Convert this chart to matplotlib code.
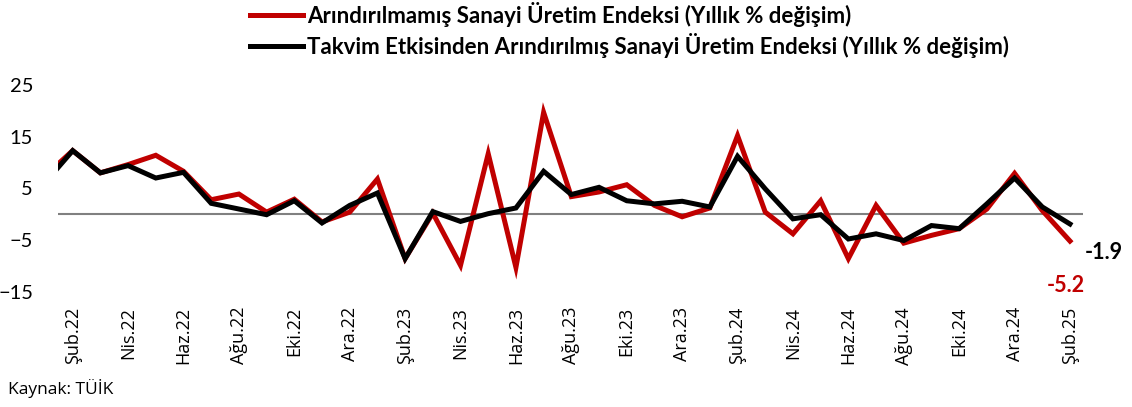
# -*- coding: UTF-8 -*-
import matplotlib
matplotlib.use("Agg")
import matplotlib.pyplot as plt

# aylar: Oca.22 .. Şub.25 (Oca.22 grafiğin solunda kırpılıyor)
months = ['Oca.22', 'Şub.22', 'Mar.22', 'Nis.22', 'May.22', 'Haz.22', 'Tem.22', 'Ağu.22',
          'Eyl.22', 'Eki.22', 'Kas.22', 'Ara.22', 'Oca.23', 'Şub.23', 'Mar.23', 'Nis.23',
          'May.23', 'Haz.23', 'Tem.23', 'Ağu.23', 'Eyl.23', 'Eki.23', 'Kas.23', 'Ara.23',
          'Oca.24', 'Şub.24', 'Mar.24', 'Nis.24', 'May.24', 'Haz.24', 'Tem.24', 'Ağu.24',
          'Eyl.24', 'Eki.24', 'Kas.24', 'Ara.24', 'Oca.25', 'Şub.25']

# Arındırılmamış sanayi üretim endeksi (yıllık % değişim)
raw = [7.4, 12.3, 8.0, 9.6, 11.4, 8.3, 2.8, 3.9, 0.4, 2.9, -1.5, 0.4, 6.8,
       -8.6, 0.2, -9.9, 11.7, -10.3, 19.7, 3.4, 4.3, 5.7, 1.7, -0.5, 1.2,
       15.2, 0.4, -3.8, 2.6, -8.6, 1.7, -5.6, -4.1, -2.8, 1.0, 7.9, 0.7, -5.2]

# Takvim etkisinden arındırılmış sanayi üretim endeksi (yıllık % değişim)
adj = [6.1, 12.3, 8.0, 9.4, 7.0, 8.1, 2.1, 1.0, -0.1, 2.6, -1.7, 1.7, 4.1,
       -8.6, 0.5, -1.4, 0.1, 1.2, 8.3, 3.8, 5.2, 2.6, 2.0, 2.5, 1.4,
       11.2, 4.9, -0.9, -0.1, -4.8, -3.8, -5.1, -2.2, -2.8, 2.0, 7.0, 1.4, -1.9]

RED = '#C00000'
TICK_FONT = 'Open Sans'
TEXT_FONT = 'Lato'


def main():
    fig = plt.figure(figsize=(11.32, 4.07), dpi=100)
    ax = fig.add_axes([58 / 1132, 1 - 291.7 / 407, 1025 / 1132, 206.7 / 407])

    x = list(range(-1, len(months) - 1))  # Şub.22 = 0
    ax.axhline(0, color='#808080', lw=1.5, zorder=1)
    ax.plot(x, raw, color=RED, lw=3.6, solid_joinstyle='miter', zorder=2,
            label='Arındırılmamış Sanayi Üretim Endeksi (Yıllık % değişim)')
    ax.plot(x, adj, color='black', lw=3.6, solid_joinstyle='miter', zorder=3,
            label='Takvim Etkisinden Arındırılmış Sanayi Üretim Endeksi (Yıllık % değişim)')

    ax.set_xlim(-0.53, 36.47)
    ax.set_ylim(-15, 25)
    ax.set_yticks([25, 15, 5, -5, -15])
    ax.set_xticks(x[1::2])
    ax.set_xticklabels(months[1::2], rotation=90, fontfamily=TICK_FONT, fontsize=13)
    for t in ax.get_yticklabels():
        t.set_fontfamily(TEXT_FONT)
        t.set_fontsize(14.5)
    ax.tick_params(axis='both', length=0)
    ax.tick_params(axis='y', pad=18)
    ax.tick_params(axis='x', pad=11)
    for s in ax.spines.values():
        s.set_visible(False)

    # son değer etiketleri
    ax.annotate('%.1f' % adj[-1], (x[-1], adj[-1]), xytext=(24.5, -20.5),
                textcoords='offset points', ha='center', va='center',
                fontfamily=TEXT_FONT, fontweight='bold', fontsize=15.5, color='black',
                annotation_clip=False)
    ax.annotate('%.1f' % raw[-1], (x[-1], raw[-1]), xytext=(-3, -32),
                textcoords='offset points', ha='center', va='center',
                fontfamily=TEXT_FONT, fontweight='bold', fontsize=15.5, color=RED,
                annotation_clip=False)

    fig.legend(loc='upper left', bbox_to_anchor=(230 / 1132, 1.045), frameon=False,
               prop={'family': TEXT_FONT, 'weight': 'bold', 'size': 16},
               handlelength=2.4, handletextpad=0.15, labelspacing=0.28)

    fig.text(8 / 1132, 1 - 388 / 407, 'Kaynak: TÜİK', fontfamily=TICK_FONT,
             fontsize=12.5, va='center', ha='left')

    fig.savefig('out.png', dpi=100)


if __name__ == "__main__":
    main()
